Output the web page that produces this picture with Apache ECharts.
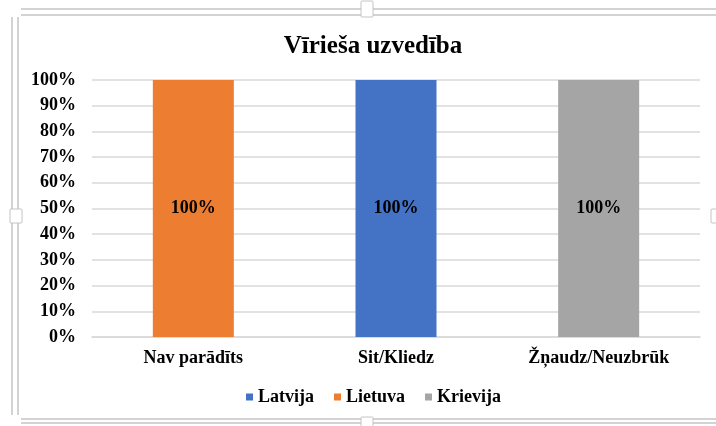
<!DOCTYPE html>
<html>
<head>
<meta charset="utf-8">
<script src="https://cdn.jsdelivr.net/npm/echarts@6/dist/echarts.min.js"></script>
<style>
html,body{margin:0;padding:0;background:#fff;}
#c{width:716px;height:426px;}
</style>
</head>
<body>
<div id="c"></div>
<script>
var titleText = 'Vīrieša uzvedība';
var categories = ['Nav parādīts', 'Sit/Kliedz', 'Žņaudz/Neuzbrūk'];
var seriesNames = ['Latvija', 'Lietuva', 'Krievija'];
var latvija = ['-', 100, '-'];
var lietuva = [100, '-', '-'];
var krievija = ['-', '-', 100];
var yMin = 0, yMax = 100, yStep = 10;

var font = 'Liberation Serif';
var colors = { Latvija: '#4472C4', Lietuva: '#ED7D31', Krievija: '#A5A5A5' };
var frameColor = '#c4c4c4';

function bar(name, data) {
  return {
    name: name, type: 'bar', stack: 'all', data: data,
    barWidth: 81,
    itemStyle: { color: colors[name] },
    label: {
      show: true, position: 'inside', formatter: '{c}%',
      fontFamily: font, fontWeight: 'bold', fontSize: 18, color: '#000'
    }
  };
}

function hline(x1, y, x2) {
  return { type: 'line', shape: { x1: x1, y1: y, x2: x2, y2: y }, style: { stroke: frameColor, lineWidth: 1.5 }, silent: true };
}
function vline(x, y1, y2) {
  return { type: 'line', shape: { x1: x, y1: y1, x2: x, y2: y2 }, style: { stroke: frameColor, lineWidth: 1.5 }, silent: true };
}
function handle(x, y, w, h) {
  return { type: 'rect', shape: { x: x, y: y, width: w, height: h, r: 1 }, style: { fill: '#fff', stroke: frameColor, lineWidth: 1 }, z: 10, silent: true };
}

var chart = echarts.init(document.getElementById('c'));
chart.setOption({
  animation: false,
  backgroundColor: '#fff',
  textStyle: { fontFamily: font },
  title: {
    text: titleText, left: 368, top: 29, textAlign: 'center',
    textStyle: { fontFamily: font, fontWeight: 'bold', fontSize: 25, color: '#000' }
  },
  legend: {
    data: seriesNames, left: 241, top: 383,
    itemWidth: 7, itemHeight: 7, itemGap: 20, icon: 'rect',
    formatter: function (n) { return '{s|' + n + '}'; },
    textStyle: {
      fontFamily: font, fontWeight: 'bold', fontSize: 18, color: '#000',
      rich: { s: { fontFamily: font, fontWeight: 'bold', fontSize: 18, color: '#000' } }
    }
  },
  grid: { left: 92, right: 16, top: 80, bottom: 89, containLabel: false },
  xAxis: {
    type: 'category', data: categories,
    axisLine: { lineStyle: { color: '#d9d9d9', width: 1.5 } },
    axisTick: { show: false },
    axisLabel: { fontFamily: font, fontWeight: 'bold', fontSize: 18, color: '#000', margin: 12 }
  },
  yAxis: {
    type: 'value', min: yMin, max: yMax, interval: yStep,
    axisLine: { show: false }, axisTick: { show: false },
    splitLine: { lineStyle: { color: '#d9d9d9', width: 1.5 } },
    axisLabel: { formatter: '{value}%', fontFamily: font, fontWeight: 'bold', fontSize: 18, color: '#000', margin: 16 }
  },
  series: [bar('Latvija', latvija), bar('Lietuva', lietuva), bar('Krievija', krievija)],
  graphic: [
    hline(21, 9, 716), hline(21, 15, 716),
    vline(12, 17, 415), vline(18, 17, 415),
    hline(21, 419, 716), hline(21, 423, 716),
    handle(361, 1, 12, 16), handle(10, 209, 12, 14), handle(711, 209, 10, 14), handle(361, 417, 12, 12)
  ]
});
</script>
</body>
</html>
